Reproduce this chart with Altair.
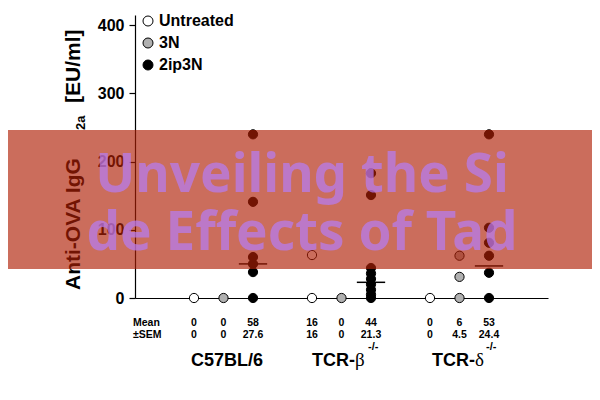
import altair as alt
import pandas as pd

# ---------------- data ----------------
treatments = ["Untreated", "3N", "2ip3N"]
fill_colors = ["white", "#b0b0b0", "black"]
col_slots = [0, 1, 2, 4, 5, 6, 8, 9, 10]
col_treat = ["Untreated", "3N", "2ip3N"] * 3
col_values = [
    [0], [0], [240, 141, 60, 50, 38, 0],
    [63, 0], [0], [183, 151, 44, 36, 28, 20, 12, 5, 0],
    [0], [62, 31, 0], [240, 103, 81, 62, 37, 0],
]
mean_txt = ["0", "0", "58", "16", "0", "44", "0", "6", "53"]
sem_txt = ["0", "0", "27.6", "16", "0", "21.3", "0", "4.5", "24.4"]
mean_line_slots = [2, 6, 10]
mean_line_values = [50, 23, 47]
y_ticks = [0, 100, 200, 300, 400]

banner_lines = ["Unveiling the Si", "de Effects of Tad"]

# ---------------- tables ----------------
pts = pd.DataFrame(
    [{"slot": s, "treatment": t, "value": v, "order": treatments.index(t)}
     for s, t, vals in zip(col_slots, col_treat, col_values) for v in vals]
)
means = pd.DataFrame({"slot": mean_line_slots, "value": mean_line_values})
means["x1"] = means["slot"] - 0.48
means["x2"] = means["slot"] + 0.48
stats = pd.DataFrame({"slot": col_slots, "mean": mean_txt, "sem": sem_txt})

FONT = "Liberation Sans"
xscale = alt.Scale(domain=[-2, 12], nice=False, zero=False)
yscale = alt.Scale(domain=[0, 415], nice=False, zero=True)
xaxis = alt.Axis(labels=False, ticks=False, grid=False, title=None,
                 domainColor="black", domainWidth=1.2)
yaxis = alt.Axis(values=y_ticks, title=None, grid=False, domainColor="black",
                 domainWidth=1.2, tickColor="black", tickSize=6, tickWidth=1.2,
                 labelFont=FONT, labelFontSize=16, labelFontWeight="bold",
                 labelColor="black", labelPadding=5)

points = alt.Chart(pts).mark_circle(stroke="black", strokeWidth=1, opacity=1, size=85).encode(
    x=alt.X("slot:Q", scale=xscale, axis=xaxis),
    y=alt.Y("value:Q", scale=yscale, axis=yaxis),
    fill=alt.Fill("treatment:N", scale=alt.Scale(domain=treatments, range=fill_colors),
                  legend=alt.Legend(title=None, orient="none", legendX=5, legendY=-2,
                                    symbolType="circle", symbolSize=100,
                                    symbolStrokeColor="black", symbolStrokeWidth=1,
                                    symbolOpacity=1, labelFont=FONT, labelFontSize=16,
                                    labelFontWeight="bold", labelColor="black",
                                    rowPadding=6, labelOffset=3, padding=0)),
    order=alt.Order("order:Q"),
)

mean_rules = alt.Chart(means).mark_rule(color="black", strokeWidth=1.5).encode(
    x=alt.X("x1:Q", scale=xscale, axis=xaxis),
    x2="x2:Q",
    y=alt.Y("value:Q", scale=yscale, axis=yaxis),
)

mean_row = alt.Chart(stats).mark_text(font=FONT, fontSize=10.5, fontWeight="bold",
                                      baseline="middle", color="black").encode(
    x=alt.X("slot:Q", scale=xscale, axis=xaxis), y=alt.value(308), text="mean:N")
sem_row = alt.Chart(stats).mark_text(font=FONT, fontSize=10.5, fontWeight="bold",
                                     baseline="middle", color="black").encode(
    x=alt.X("slot:Q", scale=xscale, axis=xaxis), y=alt.value(320), text="sem:N")


def label(txt, x, y, size, align="left", weight="bold", font=FONT, baseline="alphabetic", angle=0):
    kw = dict(font=font, fontSize=size, fontWeight=weight, align=align,
              baseline=baseline, color="black", text=txt)
    if angle:
        kw["angle"] = angle
    return alt.Chart(pd.DataFrame({"a": [0]})).mark_text(**kw).encode(
        x=alt.value(x), y=alt.value(y))


annots = [
    label("Mean", -2, 308, 10.5, baseline="middle"),
    label("±SEM", -2, 320, 10.5, baseline="middle"),
    label("C57BL/6", 92, 351, 18, align="center"),
    label("TCR-", 220, 351, 18, align="right"),
    label("β", 220, 351, 19, weight="normal", font="Liberation Serif"),
    label("-/-", 233, 332, 11, baseline="middle"),
    label("TCR-", 340, 351, 18, align="right"),
    label("δ", 340, 351, 19, weight="normal", font="Liberation Serif"),
    label("-/-", 351, 332, 11, baseline="middle"),
    label("Anti-OVA IgG", -55, 275, 21, angle=270),
    label("2a", -50, 115, 13, angle=270),
    label("[EU/ml]", -55, 88, 21, angle=270),
]

banner = alt.Chart(pd.DataFrame({"a": [0]})).mark_rect(color="#AF1E05", opacity=0.65).encode(
    x=alt.value(-135), x2=alt.value(465), y=alt.value(115), y2=alt.value(254))

banner_df = pd.DataFrame({"line": banner_lines, "ypix": [177, 235]})
banner_text = alt.Chart(banner_df).mark_text(
    font="Noto Sans", fontSize=53, fontWeight="bold", align="center",
    baseline="alphabetic", color="#B77DF6", opacity=0.7).encode(
    x=alt.value(167), y=alt.Y("ypix:Q", scale=None), text="line:N")

chart = alt.layer(points, mean_rules, mean_row, sem_row, *annots, banner, banner_text).properties(
    width=413, height=283,
    autosize=alt.AutoSizeParams(type="none"),
    padding={"left": 127, "top": 7, "right": 44, "bottom": 94},
).configure(background="white").configure_view(stroke=None)

chart.save("out.html", embed_options={"renderer": "svg", "actions": False})
